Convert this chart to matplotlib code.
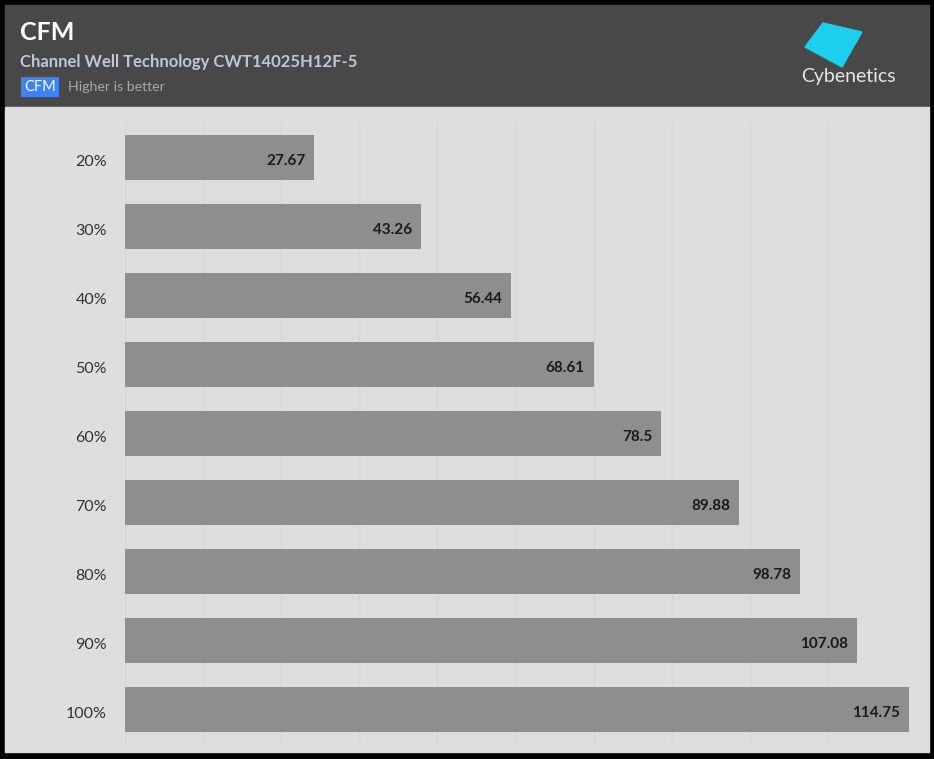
import matplotlib.pyplot as plt
from matplotlib.patches import Rectangle, Polygon
import matplotlib.transforms as mtransforms
import numpy as np

categories = ['20%', '30%', '40%', '50%', '60%', '70%', '80%', '90%', '100%']
values = [27.67, 43.26, 56.44, 68.61, 78.5, 89.88, 98.78, 107.08, 114.75]

W, H = 934, 759
plt.rcParams['font.family'] = ['Lato', 'DejaVu Sans']

fig = plt.figure(figsize=(W / 100, H / 100), dpi=100, facecolor='black')


def fx(x):
    return x / W


def fy(y):
    return 1 - y / H


# header and panel backgrounds
fig.patches.append(Rectangle((fx(5), fy(107)), fx(924), 102 / H, transform=fig.transFigure,
                             color='#484848', zorder=-2))
fig.patches.append(Rectangle((fx(5), fy(752)), fx(924), 645 / H, transform=fig.transFigure,
                             color='#dedede', zorder=-2))

fig.text(fx(20), fy(40), 'CFM', color='white', fontsize=18, fontweight='bold', va='baseline')
fig.text(fx(20), fy(67), 'Channel Well Technology CWT14025H12F-5', color='#b9c9db',
         fontsize=12, fontweight='bold', va='baseline')
fig.text(fx(24), fy(91), 'CFM', color='white', fontsize=10.5, va='baseline',
         bbox=dict(boxstyle='square,pad=0.2', fc='#3d82f7', ec='none'))
fig.text(fx(68), fy(91), 'Higher is better', color='#a8a8a8', fontsize=10.2, va='baseline')

# logo
logo = Polygon([(fx(823), fy(23)), (fx(862), fy(32)), (fx(842), fy(67)), (fx(805), fy(47))],
               closed=True, transform=fig.transFigure, color='#1ccfee', zorder=2)
fig.patches.append(logo)
fig.text(fx(848), fy(82), 'Cybenetics', color='#e6e6e6', fontsize=14, ha='center', va='baseline')

ax = fig.add_axes([fx(125), fy(744), (906 - 125) / W, (744 - 123) / H])
ax.set_facecolor('none')
y = np.arange(len(categories))
bars = ax.barh(y, values, height=0.65, color='#8e8e8e', zorder=2)
for b in bars:
    b.set_clip_on(False)
for yi, v in zip(y, values):
    ax.text(v - 1.3, yi + 0.05, f'{v:g}', ha='right', va='center', fontsize=11,
            fontweight='bold', color='#1a1a1a', zorder=3, clip_on=False)

xmax = 114.3
ax.set_xlim(0, xmax)
ax.set_ylim(len(categories) - 0.5, -0.5)
ax.set_xticks(np.linspace(0, xmax, 11))
ax.set_xticklabels([])
ax.grid(axis='x', color='#d5d5d5', linewidth=1, zorder=0)
ax.set_yticks(y)
ax.set_yticklabels(categories, fontsize=11.5, color='#333333')
ax.tick_params(length=0, pad=18)
shift = mtransforms.ScaledTranslation(7 / 100, -3 / 100, fig.dpi_scale_trans)
for lab in ax.get_yticklabels():
    lab.set_transform(lab.get_transform() + shift)
for s in ax.spines.values():
    s.set_visible(False)

fig.savefig('out.png', dpi=100, facecolor='black')
